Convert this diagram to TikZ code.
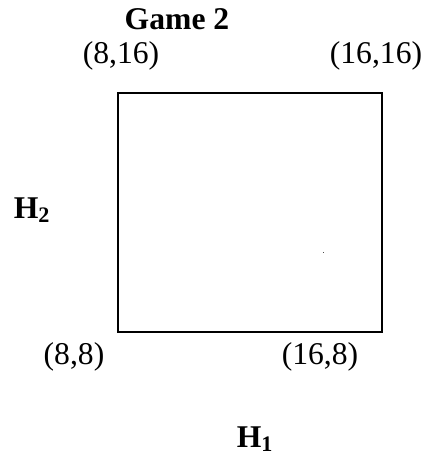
\documentclass[tikz,border=0pt]{standalone}
\usepackage{fontspec}
\setmainfont{Liberation Serif}
\usepackage{tikz}
\usetikzlibrary{positioning}
\tikzset{
  corner/.style={inner sep=0pt, anchor=base, font=\fontsize{22.5}{26}\selectfont},
  axislabel/.style={inner sep=0pt, anchor=base, font=\fontsize{22.5}{26}\selectfont\bfseries},
  payoffbox/.style={draw=black, line width=1.4pt}
}

\begin{document}
\begin{tikzpicture}[x=0.025cm, y=-0.025cm]
        \useasboundingbox (0,0) rectangle (427,458);

        \node[axislabel] (title) at (177, 30) {Game 2};

        \coordinate (sw) at (118, 332);
        \coordinate (ne) at (382, 93);
        \draw[payoffbox] (sw) rectangle (ne);

        \node[corner] (c816) at (121, 63.5) {(8,16)};
        \node[corner] (c1616) at (376, 63.5) {(16,16)};
        \node[corner] (c88) at (74, 364) {(8,8)};
        \node[corner] (c168) at (320, 364) {(16,8)};

        \node[axislabel] (h2) at (32, 218) {H\textsubscript{2}};
        \node[axislabel] (h1) at (255, 447) {H\textsubscript{1}};

        % stray mark inside the box
        \fill[black!70] (322.5, 251.5) rectangle (324, 253);
      \end{tikzpicture}
\end{document}
